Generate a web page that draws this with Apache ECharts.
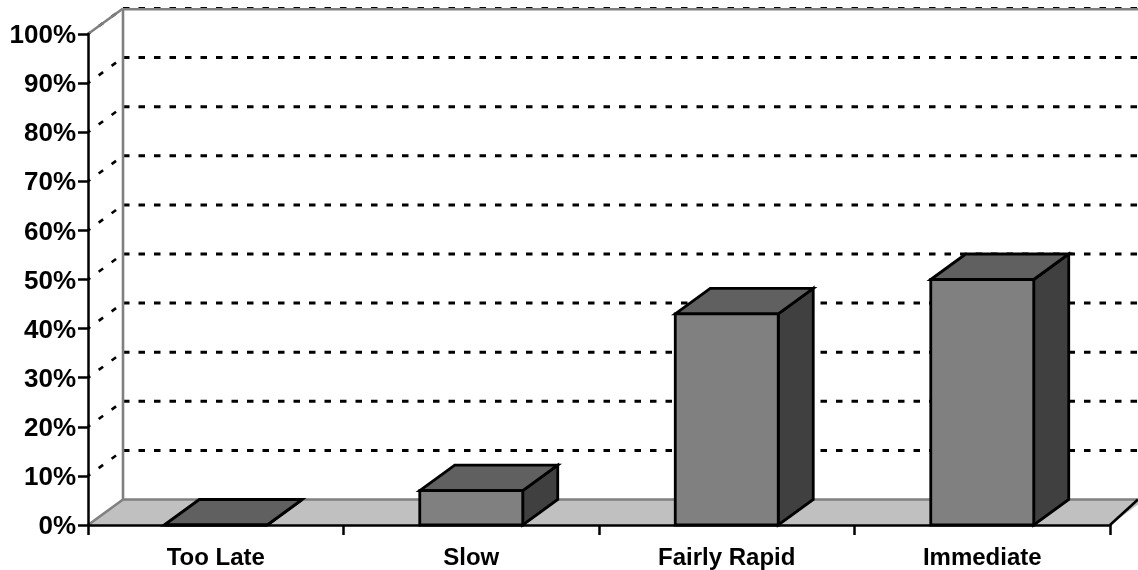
<!DOCTYPE html>
<html>
<head>
<meta charset="utf-8">
<style>html,body{margin:0;padding:0;background:#fff}#c{width:1138px;height:570px}</style>
<script src="https://cdn.jsdelivr.net/npm/echarts@6/dist/echarts.min.js"></script>
</head>
<body>
<div id="c"></div>
<script>
const categories = ['Too Late', 'Slow', 'Fairly Rapid', 'Immediate'];
const percentValues = [0, 7, 43, 50];
const gridTicks = [10, 20, 30, 40, 50, 60, 70, 80, 90, 100];

const depthX = 35, depthY = 25.5;
const rightDepthX = 28;
const barShare = 0.403;
const chart = echarts.init(document.getElementById('c'), null, {renderer: 'canvas'});

function frame(api) {
  const o = api.coord([0, 0]);
  const band = api.size([1, 0])[0];
  const left = o[0] - band / 2;
  return {left, right: left + band * categories.length, bottom: o[1], top: api.coord([0, 100])[1], band};
}
const ln = (x1, y1, x2, y2, style) => ({type: 'line', shape: {x1, y1, x2, y2}, style: Object.assign({fill: null}, style)});
const poly = (points, fill) => ({type: 'polygon', shape: {points}, style: {fill, stroke: '#000', lineWidth: 2.8, lineJoin: 'miter'}});

chart.setOption({
  animation: false,
  backgroundColor: '#fff',
  grid: {left: 88, right: 28, top: 34, bottom: 45, containLabel: false},
  xAxis: {
    type: 'category', data: categories, z: 2, silent: true,
    axisLine: {show: true, lineStyle: {color: '#000', width: 2.5}},
    axisTick: {show: true, length: 10, lineStyle: {color: '#000', width: 2.5}, alignWithLabel: false},
    axisLabel: {color: '#000', fontFamily: 'Liberation Sans', fontWeight: 'bold', fontSize: 24, margin: 21, interval: 0}
  },
  yAxis: {
    type: 'value', min: 0, max: 100, interval: 10, z: 2, silent: true,
    axisLine: {show: true, lineStyle: {color: '#000', width: 2.5}},
    axisTick: {show: true, length: 10, lineStyle: {color: '#000', width: 2.5}},
    splitLine: {show: false},
    axisLabel: {
      margin: 12,
      formatter: v => `{a|${v}%}`,
      rich: {a: {color: '#000', fontFamily: 'Liberation Sans', fontWeight: 'bold', fontSize: 26, padding: [4, 0, 0, 0]}}
    }
  },
  series: [
    {
      type: 'custom', z: 1, silent: true, clip: false,
      data: gridTicks.map(t => [0, t]),
      encode: {x: 0, y: 1},
      renderItem(params, api) {
        const f = frame(api);
        const y = api.coord([0, api.value(1)])[1];
        return {type: 'group', children: [
          ln(f.left + depthX, y - depthY, f.right + depthX, y - depthY, {stroke: '#000', lineWidth: 3, lineDash: [6.5, 9]}),
          ln(f.left + depthX, y - depthY, f.left, y, {stroke: '#000', lineWidth: 2.6, lineDash: [5.5, 10.5], lineDashOffset: 7.4})
        ]};
      }
    },
    {
      type: 'custom', z: 1, silent: true, clip: false,
      data: [[0, 0]],
      encode: {x: 0, y: 1},
      renderItem(params, api) {
        const f = frame(api);
        const grey = {stroke: '#808080', lineWidth: 2.6};
        return {type: 'group', children: [
          {type: 'polygon', shape: {points: [
            [f.left, f.bottom], [f.left + depthX, f.bottom - depthY],
            [f.right + depthX, f.bottom - depthY], [f.right, f.bottom]
          ]}, style: {fill: '#c0c0c0'}},
          ln(f.left + depthX, f.bottom - depthY, f.right + depthX, f.bottom - depthY, grey),
          ln(f.left + depthX, f.bottom - depthY, f.left + depthX, f.top - depthY + 0.8, grey),
          ln(f.left + depthX, f.top - depthY + 0.8, f.right + depthX, f.top - depthY + 0.8, grey),
          ln(f.left, f.top, f.left + depthX, f.top - depthY, grey),
          ln(f.left, f.bottom, f.left + depthX, f.bottom - depthY, grey),
          ln(f.right, f.bottom, f.right + rightDepthX, f.bottom - depthY, {stroke: '#000', lineWidth: 2.6})
        ]};
      }
    },
    {
      type: 'custom', z: 3, silent: true, clip: false,
      data: percentValues.map((v, i) => [i, v]),
      encode: {x: 0, y: 1},
      renderItem(params, api) {
        const c = api.coord([api.value(0), api.value(1)]);
        const base = api.coord([api.value(0), 0]);
        const w = api.size([1, 0])[0] * barShare;
        const l = c[0] - w / 2, r = c[0] + w / 2, t = c[1], b = base[1];
        const children = [];
        children.push(poly([[r, t], [r + depthX, t - depthY], [r + depthX, b - depthY], [r, b]], '#404040'));
        children.push(poly([[l, t], [l + depthX, t - depthY], [r + depthX, t - depthY], [r, t]], '#606060'));
        children.push(poly([[l, t], [r, t], [r, b], [l, b]], '#808080'));
        return {type: 'group', children};
      }
    }
  ]
});
</script>
</body>
</html>
